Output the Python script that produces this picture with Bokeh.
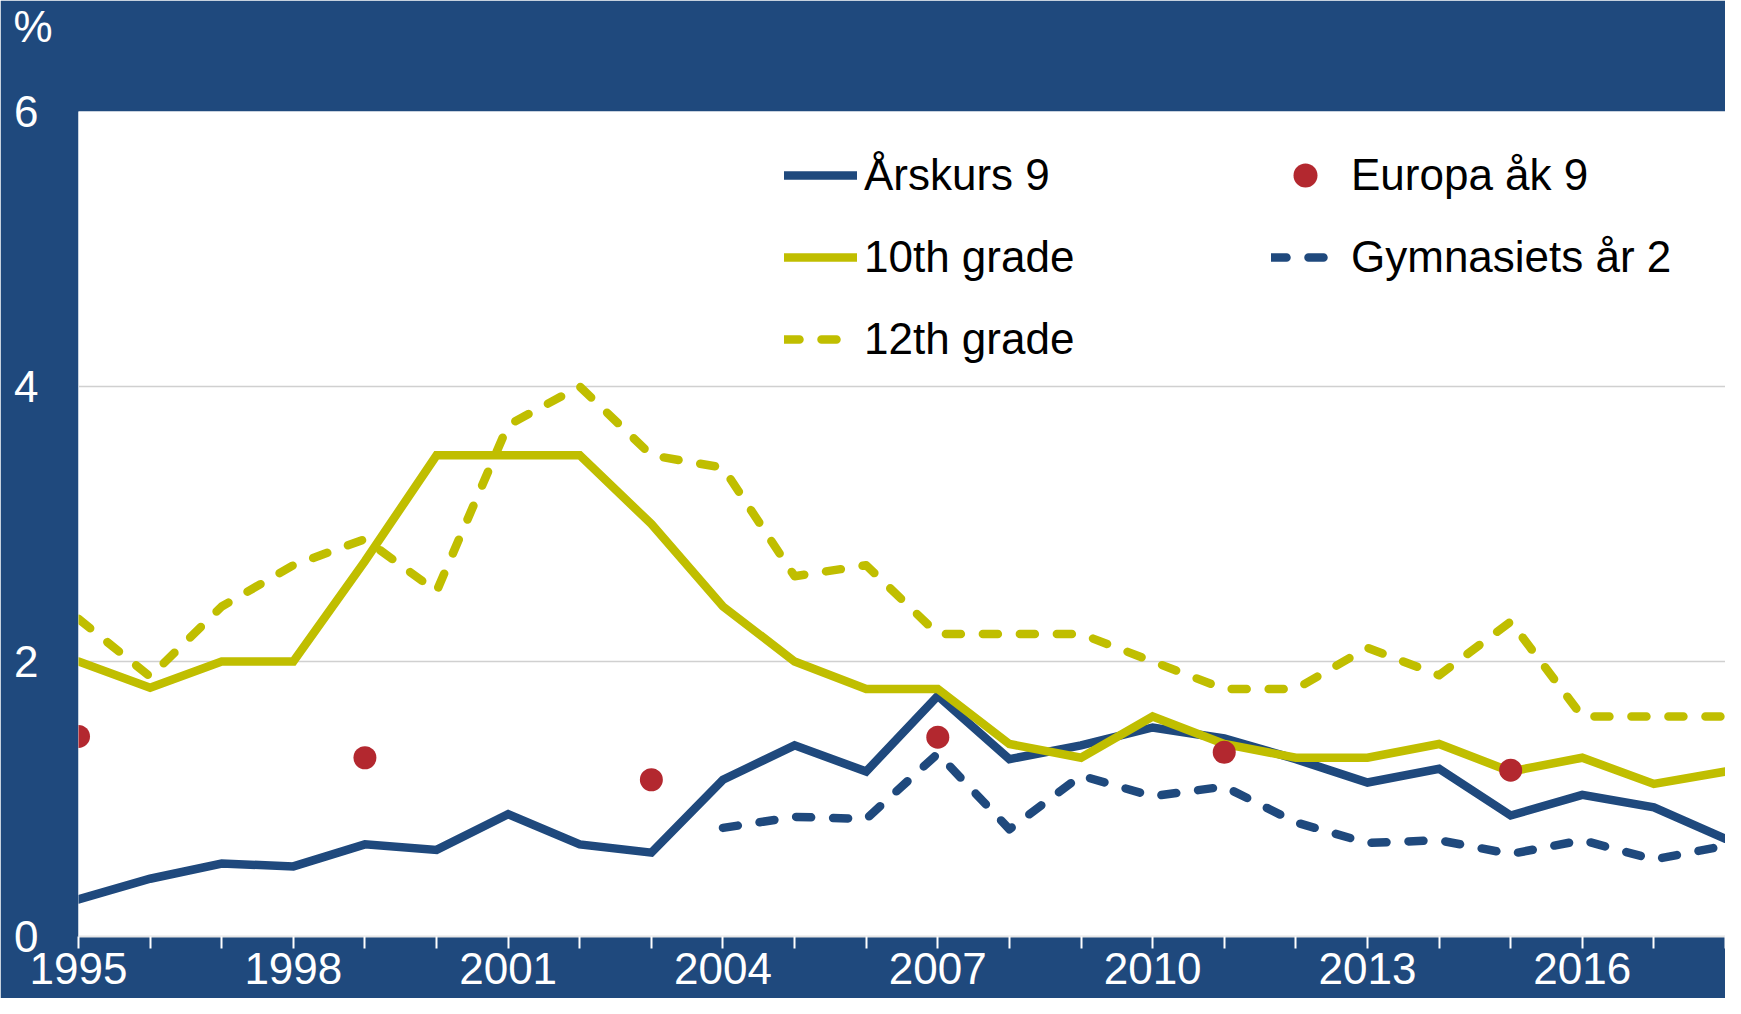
from bokeh.plotting import figure
from bokeh.models import Range1d, FixedTicker, Legend, LegendItem
from bokeh.embed import file_html
from bokeh.resources import INLINE

# ---- data ----
years = list(range(1995, 2019))
arskurs9 = [0.27, 0.42, 0.53, 0.51, 0.67, 0.63, 0.89, 0.67, 0.61, 1.14, 1.39, 1.20,
            1.75, 1.29, 1.39, 1.52, 1.44, 1.29, 1.12, 1.22, 0.88, 1.03, 0.94, 0.71]
grade10 = [2.0, 1.81, 2.0, 2.0, 2.73, 3.5, 3.5, 3.5, 3.0, 2.4, 2.0, 1.8,
           1.8, 1.4, 1.3, 1.6, 1.4, 1.3, 1.3, 1.4, 1.2, 1.3, 1.11, 1.2]
grade12 = [2.31, 1.89, 2.4, 2.7, 2.89, 2.51, 3.72, 4.0, 3.5, 3.41, 2.62, 2.7,
           2.2, 2.2, 2.2, 2.0, 1.8, 1.8, 2.1, 1.9, 2.29, 1.6, 1.6, 1.6]
gym_years = list(range(2004, 2019))
gymnasiet2 = [0.79, 0.87, 0.855, 1.33, 0.78, 1.17, 1.02, 1.09, 0.83, 0.68, 0.70,
              0.60, 0.70, 0.56, 0.66]
europa_years = [1995, 1999, 2003, 2007, 2011, 2015]
europa = [1.455, 1.30, 1.14, 1.45, 1.34, 1.21]

y_ticks = [0, 2, 4, 6]
x_label_years = [1995, 1998, 2001, 2004, 2007, 2010, 2013, 2016]
unit_label = "%"

# ---- styles ----
BLUE = "#1F497D"
YELLOW = "#C0BE00"
RED = "#B3282F"
FONT = "Liberation Sans"
FS = "44px"
LW = 8.5
DASH = "15 22"

p = figure(width=1725, height=998,
           x_range=Range1d(1995, 2018), y_range=Range1d(0, 6),
           output_backend="svg", toolbar_location=None, tools="",
           min_border_left=78, min_border_right=0,
           min_border_top=111, min_border_bottom=62,
           background_fill_color="white", border_fill_color=BLUE,
           outline_line_color=None)

# unit label as title, top-left (blank second line lifts it to the top edge)
p.title.text = unit_label + "\n "
p.title.align = "left"
p.title.vertical_align = "top"
p.title.offset = -65
p.title.standoff = 0
p.title.text_line_height = 1.2
p.title.text_color = "white"
p.title.text_font = FONT
p.title.text_font_size = FS
p.title.text_font_style = "normal"

r_gym = p.line(gym_years, gymnasiet2, line_color=BLUE, line_width=LW,
               line_dash=DASH, line_cap="round", line_join="round")
r_g12 = p.line(years, grade12, line_color=YELLOW, line_width=LW,
               line_dash=DASH, line_cap="round", line_join="round")
r_a9 = p.line(years, arskurs9, line_color=BLUE, line_width=LW,
              line_cap="round", line_join="miter")
r_g10 = p.line(years, grade10, line_color=YELLOW, line_width=LW,
               line_cap="round", line_join="miter")
r_eu = p.scatter(europa_years, europa, size=23, fill_color=RED, line_color=None)

# axes
p.xaxis.ticker = FixedTicker(ticks=years)
p.xaxis.major_label_overrides = {y: (str(y) if y in x_label_years else "") for y in years}
p.xaxis.major_tick_out = 0
p.xaxis.major_tick_in = -12
p.xaxis.minor_tick_line_color = None
p.xaxis.major_tick_line_color = "white"
p.xaxis.major_tick_line_width = 2
p.xaxis.axis_line_color = "#E6E6E6"
p.xaxis.axis_line_width = 2
p.xaxis.major_label_standoff = 16
p.xaxis.major_label_text_color = "white"
p.xaxis.major_label_text_font = FONT
p.xaxis.major_label_text_font_size = FS

p.yaxis.ticker = FixedTicker(ticks=y_ticks)
p.yaxis.major_tick_out = 0
p.yaxis.major_tick_in = 0
p.yaxis.minor_tick_line_color = None
p.yaxis.axis_line_color = None
p.yaxis.major_label_standoff = 40
p.yaxis.major_label_text_color = "white"
p.yaxis.major_label_text_font = FONT
p.yaxis.major_label_text_font_size = FS

p.xgrid.grid_line_color = None
p.ygrid.ticker = FixedTicker(ticks=y_ticks)
p.ygrid.grid_line_color = "#D0D0D0"
p.ygrid.grid_line_width = 1.5

def make_legend(items, loc, gw, standoff):
    return Legend(items=items, location=loc, orientation="vertical",
                  glyph_width=gw, glyph_height=60, label_height=60,
                  label_standoff=standoff, spacing=22, padding=0, margin=0,
                  border_line_color=None, background_fill_alpha=0,
                  label_text_font=FONT, label_text_font_size=FS,
                  label_text_color="black")

# legend locations are measured from the frame's bottom-left corner
frame_bottom = 998 - 62
leg1 = make_legend([LegendItem(label="Årskurs 9", renderers=[r_a9]),
                    LegendItem(label="10th grade", renderers=[r_g10]),
                    LegendItem(label="12th grade", renderers=[r_g12])],
                   (706, frame_bottom - 369), 73, 7)
leg2 = make_legend([LegendItem(label="Europa åk 9", renderers=[r_eu]),
                    LegendItem(label="Gymnasiets år 2", renderers=[r_gym])],
                   (1193, frame_bottom - 287), 68, 12)
p.add_layout(leg1)
p.add_layout(leg2)

open("out.html", "w").write(file_html(p, INLINE))
